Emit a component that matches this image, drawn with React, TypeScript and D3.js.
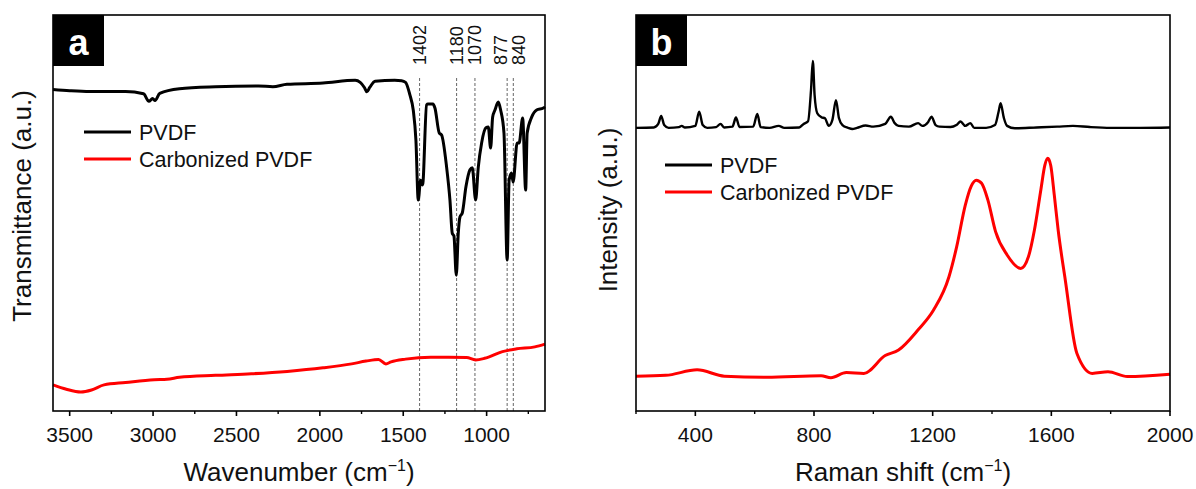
import * as d3 from "d3";

// ---- data ----
// FTIR (panel a): [wavenumber, transmittance a.u.]
const ftirPvdf: [number, number][] = [
  [3600, 81.2], [3500, 80.9], [3380, 80.7], [3165, 80.7], [3057, 80.1], [3025, 78.2],
  [3003, 78.9], [2988, 78.4], [2960, 80.2], [2842, 81.4], [2626, 81.9], [2368, 82.1],
  [2282, 81.9], [2197, 82.5], [1981, 82.8], [1788, 83.5], [1758, 83.0], [1733, 81.7],
  [1718, 80.6], [1701, 81.7], [1669, 83.3], [1551, 83.5], [1510, 83.4], [1486, 83.0],
  [1460, 79.8], [1440, 76.0], [1424, 68.4], [1410, 53.3], [1396, 58.3], [1384, 57.1],
  [1360, 77.3], [1352, 77.5], [1322, 77.5], [1310, 76.5], [1284, 70.2], [1270, 69.7],
  [1240, 61.6], [1220, 53.3], [1206, 44.9], [1196, 44.2], [1182, 34.3], [1170, 44.9],
  [1160, 49.0], [1146, 50.0], [1124, 56.6], [1100, 60.9], [1086, 61.4], [1066, 53.3],
  [1050, 61.6], [1030, 67.7], [1004, 71.5], [990, 71.7], [976, 66.4], [964, 74.2],
  [950, 76.0], [930, 78.0], [916, 76.0], [896, 70.2], [877, 38.1], [865, 58.3],
  [851, 60.1], [841, 57.8], [817, 67.7], [805, 67.7], [784, 74.0], [766, 55.8],
  [757, 70.2], [730, 74.2], [700, 76.0], [660, 76.5], [650, 76.8],
];
const ftirCarbon: [number, number][] = [
  [3600, 6.6], [3520, 5.5], [3433, 4.8], [3369, 5.3], [3294, 6.6], [3165, 7.2],
  [2993, 7.9], [2917, 8.0], [2842, 8.5], [2626, 9.0], [2411, 9.4], [2196, 10.0],
  [1981, 10.9], [1809, 11.9], [1723, 12.6], [1648, 13.0], [1604, 11.9], [1573, 12.4],
  [1486, 13.1], [1335, 13.6], [1228, 13.6], [1120, 13.5], [1066, 12.9], [1012, 13.3],
  [905, 15.0], [819, 15.7], [711, 16.2], [650, 16.9],
];
// Raman (panel b): [shift, intensity a.u.]
const ramanPvdf: [number, number][] = [
  [200, 71.5], [260, 71.6], [275, 72.5], [285, 74.5], [295, 72.2], [310, 71.5],
  [345, 71.7], [354, 72.0], [365, 71.6], [400, 72.0], [413, 75.6], [425, 72.2],
  [440, 71.5], [470, 71.7], [485, 72.5], [497, 71.6], [525, 71.8], [537, 74.1],
  [549, 71.7], [595, 71.8], [609, 75.0], [620, 71.7], [650, 71.5], [681, 72.0],
  [700, 71.5], [750, 71.6], [765, 72.5], [780, 73.2], [790, 81.1], [796, 88.4],
  [802, 79.8], [811, 75.2], [825, 74.2], [837, 73.9], [850, 72.0], [862, 73.5],
  [874, 78.5], [884, 74.0], [896, 72.2], [915, 71.5], [929, 71.2], [945, 71.5],
  [974, 72.1], [1000, 71.8], [1040, 72.5], [1059, 74.3], [1072, 72.7], [1085, 72.0],
  [1120, 71.8], [1151, 72.7], [1165, 72.0], [1185, 73.0], [1196, 74.3], [1210, 72.2],
  [1223, 71.8], [1260, 71.7], [1280, 72.2], [1294, 73.1], [1310, 72.0], [1327, 72.7],
  [1340, 71.5], [1380, 71.5], [1410, 72.2], [1422, 75.5], [1429, 77.7], [1440, 74.0],
  [1451, 72.0], [1477, 71.4], [1550, 71.6], [1620, 71.8], [1673, 72.0], [1730, 71.7],
  [1800, 71.5], [1900, 71.5], [2000, 71.6],
];
const ramanCarbon: [number, number][] = [
  [200, 8.8], [300, 9.0], [406, 10.4], [498, 8.8], [641, 8.5], [824, 8.9], [857, 8.4],
  [909, 9.7], [968, 9.5], [1040, 14.0], [1085, 15.4], [1151, 20.5], [1203, 25.5],
  [1255, 33.9], [1281, 41.5], [1310, 52.0], [1330, 56.8], [1347, 58.3], [1365, 57.5],
  [1386, 53.3], [1412, 45.3], [1451, 39.4], [1497, 36.0], [1523, 39.0], [1543, 45.7],
  [1565, 56.0], [1578, 62.0], [1588, 63.8], [1598, 62.0], [1610, 54.5], [1623, 45.7],
  [1647, 33.1], [1686, 14.6], [1738, 9.5], [1791, 9.9], [1856, 8.7], [2000, 9.3],
];

const ftirTicks = [3500, 3000, 2500, 2000, 1500, 1000];
const ftirMinor = [3250, 2750, 2250, 1750, 1250, 750];
const ramanTicks = [400, 800, 1200, 1600, 2000];
const ramanMinor = [200, 600, 1000, 1400, 1800];
const bands = [1402, 1180, 1070, 877, 840];
const seriesNames = ["PVDF", "Carbonized PVDF"];
const seriesColors = ["#000000", "#ff0000"];

const FONT = "'Liberation Sans', Arial, Helvetica, sans-serif";
const top = 15;
const bottom = 411;

const y = d3.scaleLinear().domain([0, 100]).range([bottom, top]);

function Panel(props: {
  left: number;
  right: number;
  domain: [number, number];
  ticks: number[];
  minor: number[];
  letter: string;
  xTitle: string;
  yTitle: string;
  yTitleX: number;
  yTitleY: number;
  legendX: number;
  legendY: number;
  data: [number, number][][];
  widths: number[];
  extra?: (x: d3.ScaleLinear<number, number>) => any;
}) {
  const { left, right, domain, ticks, minor, letter } = props;
  const x = d3.scaleLinear().domain(domain).range([left, right]);
  const line = d3
    .line<[number, number]>()
    .x((d) => x(d[0]))
    .y((d) => y(d[1]))
    .curve(d3.curveMonotoneX);
  const mid = (left + right) / 2;

  return (
    <g>
      {props.extra && props.extra(x)}
      {props.data.map((s, i) => (
        <path
          key={i}
          d={line(s) || ""}
          fill="none"
          stroke={seriesColors[i]}
          strokeWidth={props.widths[i]}
          strokeLinejoin="round"
        />
      ))}
      <rect x={left} y={top} width={right - left} height={bottom - top} fill="none" stroke="#000" strokeWidth={1.6} />
      {/* letter tag */}
      <rect x={left} y={top} width={51} height={51} fill="#000" />
      <text x={left + 25.5} y={top + 40} textAnchor="middle" fill="#fff" fontFamily={FONT} fontWeight="bold" fontSize={36}>
        {letter}
      </text>
      {/* x ticks */}
      {ticks.map((t) => (
        <g key={"t" + t}>
          <line x1={x(t)} x2={x(t)} y1={bottom} y2={bottom + 5} stroke="#000" strokeWidth={1.6} />
          <text x={x(t)} y={bottom + 31} textAnchor="middle" fontFamily={FONT} fontSize={21} fill="#111">
            {t}
          </text>
        </g>
      ))}
      {minor.map((t) => (
        <line key={"m" + t} x1={x(t)} x2={x(t)} y1={bottom} y2={bottom + 3} stroke="#000" strokeWidth={1.4} />
      ))}
      <text x={mid} y={481} textAnchor="middle" fontFamily={FONT} fontSize={26} fill="#111">
        {props.xTitle} (cm<tspan dy={-10} fontSize={16}>−1</tspan>
        <tspan dy={10}>)</tspan>
      </text>
      <text
        transform={`translate(${props.yTitleX},${props.yTitleY}) rotate(-90)`}
        textAnchor="middle"
        fontFamily={FONT}
        fontSize={26}
        fill="#111"
      >
        {props.yTitle}
      </text>
      {/* legend */}
      {seriesNames.map((n, i) => (
        <g key={n}>
          <line
            x1={props.legendX}
            x2={props.legendX + 47}
            y1={props.legendY + i * 27}
            y2={props.legendY + i * 27}
            stroke={seriesColors[i]}
            strokeWidth={3}
          />
          <text
            x={props.legendX + 55}
            y={props.legendY + i * 27}
            dy="0.36em"
            fontFamily={FONT}
            fontSize={21.5}
            fill="#111"
          >
            {n}
          </text>
        </g>
      ))}
    </g>
  );
}

function bandMarks(x: d3.ScaleLinear<number, number>) {
  // spread labels apart where the bands sit too close together
  const pos = bands.map((b) => x(b));
  const lab = pos.slice();
  const gap = 18.3;
  for (let i = 0; i < lab.length - 1; i++) {
    const d = lab[i + 1] - lab[i];
    if (d < gap) {
      lab[i] -= (gap - d) / 2;
      lab[i + 1] += (gap - d) / 2;
    }
  }
  return (
    <g>
      {bands.map((b, i) => (
        <g key={b}>
          <line x1={pos[i]} x2={pos[i]} y1={78} y2={bottom} stroke="#555" strokeWidth={0.9} strokeDasharray="3,2" />
          <text
            transform={`translate(${lab[i]},65) rotate(-90)`}
            dominantBaseline="central"
            fontFamily={FONT}
            fontSize={18}
            fill="#111"
          >
            {b}
          </text>
        </g>
      ))}
    </g>
  );
}

export default function App() {
  return (
    <svg
      width={1196}
      height={489}
      style={{ position: "absolute", left: 0, top: 0, background: "#fff" }}
    >
      <rect width={1196} height={489} fill="#fff" />
      <Panel
        left={53}
        right={545}
        domain={[3600, 650]}
        ticks={ftirTicks}
        minor={ftirMinor}
        letter="a"
        xTitle="Wavenumber"
        yTitle="Transmittance (a.u.)"
        yTitleX={31}
        yTitleY={206}
        legendX={84}
        legendY={132}
        data={[ftirPvdf, ftirCarbon]}
        widths={[3, 3]}
        extra={bandMarks}
      />
      <Panel
        left={636}
        right={1170}
        domain={[200, 2000]}
        ticks={ramanTicks}
        minor={ramanMinor}
        letter="b"
        xTitle="Raman shift"
        yTitle="Intensity (a.u.)"
        yTitleX={617}
        yTitleY={210}
        legendX={665}
        legendY={165}
        data={[ramanPvdf, ramanCarbon]}
        widths={[2.4, 3]}
      />
    </svg>
  );
}
